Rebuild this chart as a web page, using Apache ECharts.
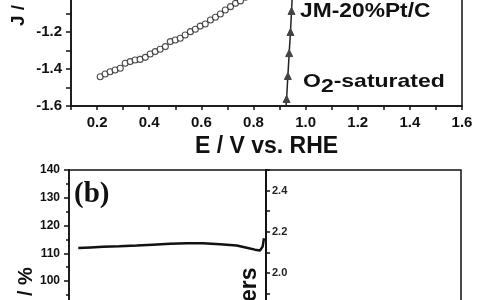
<!DOCTYPE html>
<html>
<head>
<meta charset="utf-8">
<script src="https://cdn.jsdelivr.net/npm/echarts@6/dist/echarts.min.js"></script>
<style>html,body{margin:0;padding:0;background:#fff;}#c{width:480px;height:300px;}</style>
</head>
<body>
<div id="c"></div>
<script>
// Panel (a): open circles (catalyst) and triangles (JM-20%Pt/C)
const eCircle = [0.212,0.231,0.250,0.269,0.289,0.308,0.327,0.346,0.365,0.385,0.404,0.423,0.442,0.462,0.481,0.500,0.519,0.538,0.558,0.577,0.596,0.615,0.635,0.654,0.673,0.692,0.712,0.731,0.750,0.769];
const jCircle = [-1.442,-1.427,-1.415,-1.405,-1.396,-1.369,-1.360,-1.351,-1.348,-1.337,-1.319,-1.306,-1.293,-1.279,-1.252,-1.243,-1.234,-1.216,-1.198,-1.185,-1.168,-1.157,-1.135,-1.120,-1.103,-1.081,-1.063,-1.045,-1.032,-1.012];
const eTri = [0.927,0.932,0.937,0.942,0.946];
const jTri = [-1.562,-1.438,-1.314,-1.200,-1.086];
const eTriEnds = [0.924,0.950];
const jTriEnds = [-1.62,-0.98];
// Panel (b): retention over time
const tTime = [944,2200,3451,5100,6872,8500,10251,11947,13601,15327,17021,18036,18879,19386,19660,19793];
const retention = [111.9,112.1,112.3,112.5,112.8,113.1,113.4,113.6,113.6,113.2,112.8,112.0,111.3,111.0,112.4,115.4];
// tick label sets
const xTickLabels = ['0.2','0.4','0.6','0.8','1.0','1.2','1.4','1.6'];
const yTickLabelsA = ['-1.2','-1.4','-1.6'];
const yTickLabelsB = ['100','110','120','130','140'];
const yTickLabelsC = ['2.0','2.2','2.4'];

const F = 'Liberation Sans, Arial, sans-serif';
const black = '#111';

function pick(list, digits){
  return function(v){ const s = v.toFixed(digits); return list.indexOf(s) >= 0 ? s : ''; };
}

const circleData = eCircle.map((e,i)=>[e,jCircle[i]]);
const triData = [{value:[eTriEnds[0],jTriEnds[0]],symbol:'none'}]
  .concat(eTri.map((e,i)=>[e,jTri[i]]))
  .concat([{value:[eTriEnds[1],jTriEnds[1]],symbol:'none'}]);
const retData = tTime.map((t,i)=>[t,retention[i]]);

const axLine = {show:true, lineStyle:{color:black, width:1.5}};

const option = {
  backgroundColor:'#fff',
  animation:false,
  grid:[
    {left:71, top:-5, width:391, height:111, show:true, borderColor:black, borderWidth:1.5, backgroundColor:'transparent', outerBoundsMode:'none', containLabel:false},
    {left:69, top:170, width:197, height:194.25, show:true, borderColor:black, borderWidth:1.5, backgroundColor:'transparent', outerBoundsMode:'none', containLabel:false},
    {left:266, top:170, width:195, height:185.4, show:true, borderColor:black, borderWidth:1.5, backgroundColor:'transparent', outerBoundsMode:'none', containLabel:false}
  ],
  xAxis:[
    {gridIndex:0, type:'value', min:0.1, max:1.6, interval:0.1,
      name:'E / V vs. RHE', nameLocation:'middle', nameGap:29,
      nameTextStyle:{fontFamily:F, fontWeight:'bold', fontSize:23, color:black},
      axisLine:axLine, axisTick:{show:true, inside:false, length:4, lineStyle:{color:black, width:1.5}},
      axisLabel:{formatter:pick(xTickLabels,1), fontFamily:F, fontWeight:'bold', fontSize:15, color:black, margin:9, showMinLabel:true, showMaxLabel:true},
      splitLine:{show:false}},
    {gridIndex:1, type:'value', min:0, max:20000, show:false, splitLine:{show:false}},
    {gridIndex:2, type:'value', min:0, max:20000, show:false, splitLine:{show:false}}
  ],
  yAxis:[
    {gridIndex:0, type:'value', min:-1.6, max:-1.0, interval:0.1,
      axisLine:axLine, axisTick:{show:true, inside:false, length:5, lineStyle:{color:black, width:1.5}},
      axisLabel:{formatter:pick(yTickLabelsA,1), fontFamily:F, fontWeight:'bold', fontSize:15, color:black, margin:9},
      splitLine:{show:false}},
    {gridIndex:1, type:'value', min:70, max:140, interval:10,
      axisLine:axLine, axisTick:{show:true, inside:false, length:5, lineStyle:{color:black, width:1.5}},
      minorTick:{show:true, splitNumber:2, length:3, lineStyle:{color:black, width:1.5}},
      axisLabel:{formatter:pick(yTickLabelsB,0), fontFamily:F, fontWeight:'bold', fontSize:12, color:black, margin:9},
      splitLine:{show:false}, minorSplitLine:{show:false}},
    {gridIndex:2, type:'value', min:1.6, max:2.5, interval:0.1,
      axisLine:axLine, axisTick:{show:true, inside:true, length:4, lineStyle:{color:black, width:1.5}},
      axisLabel:{inside:true, formatter:pick(yTickLabelsC,1), fontFamily:F, fontWeight:'bold', fontSize:11, color:'#222', margin:6},
      splitLine:{show:false}}
  ],
  series:[
    {type:'scatter', xAxisIndex:0, yAxisIndex:0, data:circleData, symbol:'circle', symbolSize:6,
      itemStyle:{color:'#fff', borderColor:'#222', borderWidth:1.1}, clip:true},
    {type:'line', xAxisIndex:0, yAxisIndex:0, data:triData, symbol:'triangle', symbolSize:7, showAllSymbol:true,
      lineStyle:{color:'#222', width:1.5}, itemStyle:{color:'#444', borderColor:'#444'}, clip:true},
    {type:'line', xAxisIndex:1, yAxisIndex:1, data:retData, symbol:'none',
      lineStyle:{color:'#111', width:2.5}, clip:true}
  ],
  graphic:[
    {type:'text', x:300, y:11, scaleX:1.14, style:{text:'JM-20%Pt/C', fontFamily:F, fontWeight:'bold', fontSize:20, fill:black, align:'left', verticalAlign:'middle'}},
    {type:'text', x:303, y:82, scaleX:1.21, style:{text:'{o|O}{s|2}{o|-saturated}', align:'left', verticalAlign:'middle', fill:black,
      rich:{o:{fontFamily:F, fontWeight:'bold', fontSize:19, fill:black}, s:{fontFamily:F, fontWeight:'bold', fontSize:19, fill:black, padding:[10,0,0,0]}}}},
    {type:'text', x:74, y:195, style:{text:'(b)', fontFamily:'Liberation Serif, Times New Roman, serif', fontWeight:'bold', fontSize:29, fill:black, align:'left', verticalAlign:'middle'}},
    {type:'text', x:18.5, y:26, rotation:Math.PI/2, style:{text:'J /', fontFamily:F, fontWeight:'bold', fontSize:19, fill:black, align:'left', verticalAlign:'middle'}},
    {type:'text', x:26, y:296, rotation:Math.PI/2, style:{text:'/ %', fontFamily:F, fontWeight:'bold', fontSize:20, fill:black, align:'left', verticalAlign:'middle'}},
    {type:'text', x:250, y:302, rotation:Math.PI/2, style:{text:'ers', fontFamily:F, fontWeight:'bold', fontSize:23, fill:black, align:'left', verticalAlign:'middle'}}
  ]
};
const chart = echarts.init(document.getElementById('c'), null, {renderer:'canvas'});
chart.setOption(option);
</script>
</body>
</html>
